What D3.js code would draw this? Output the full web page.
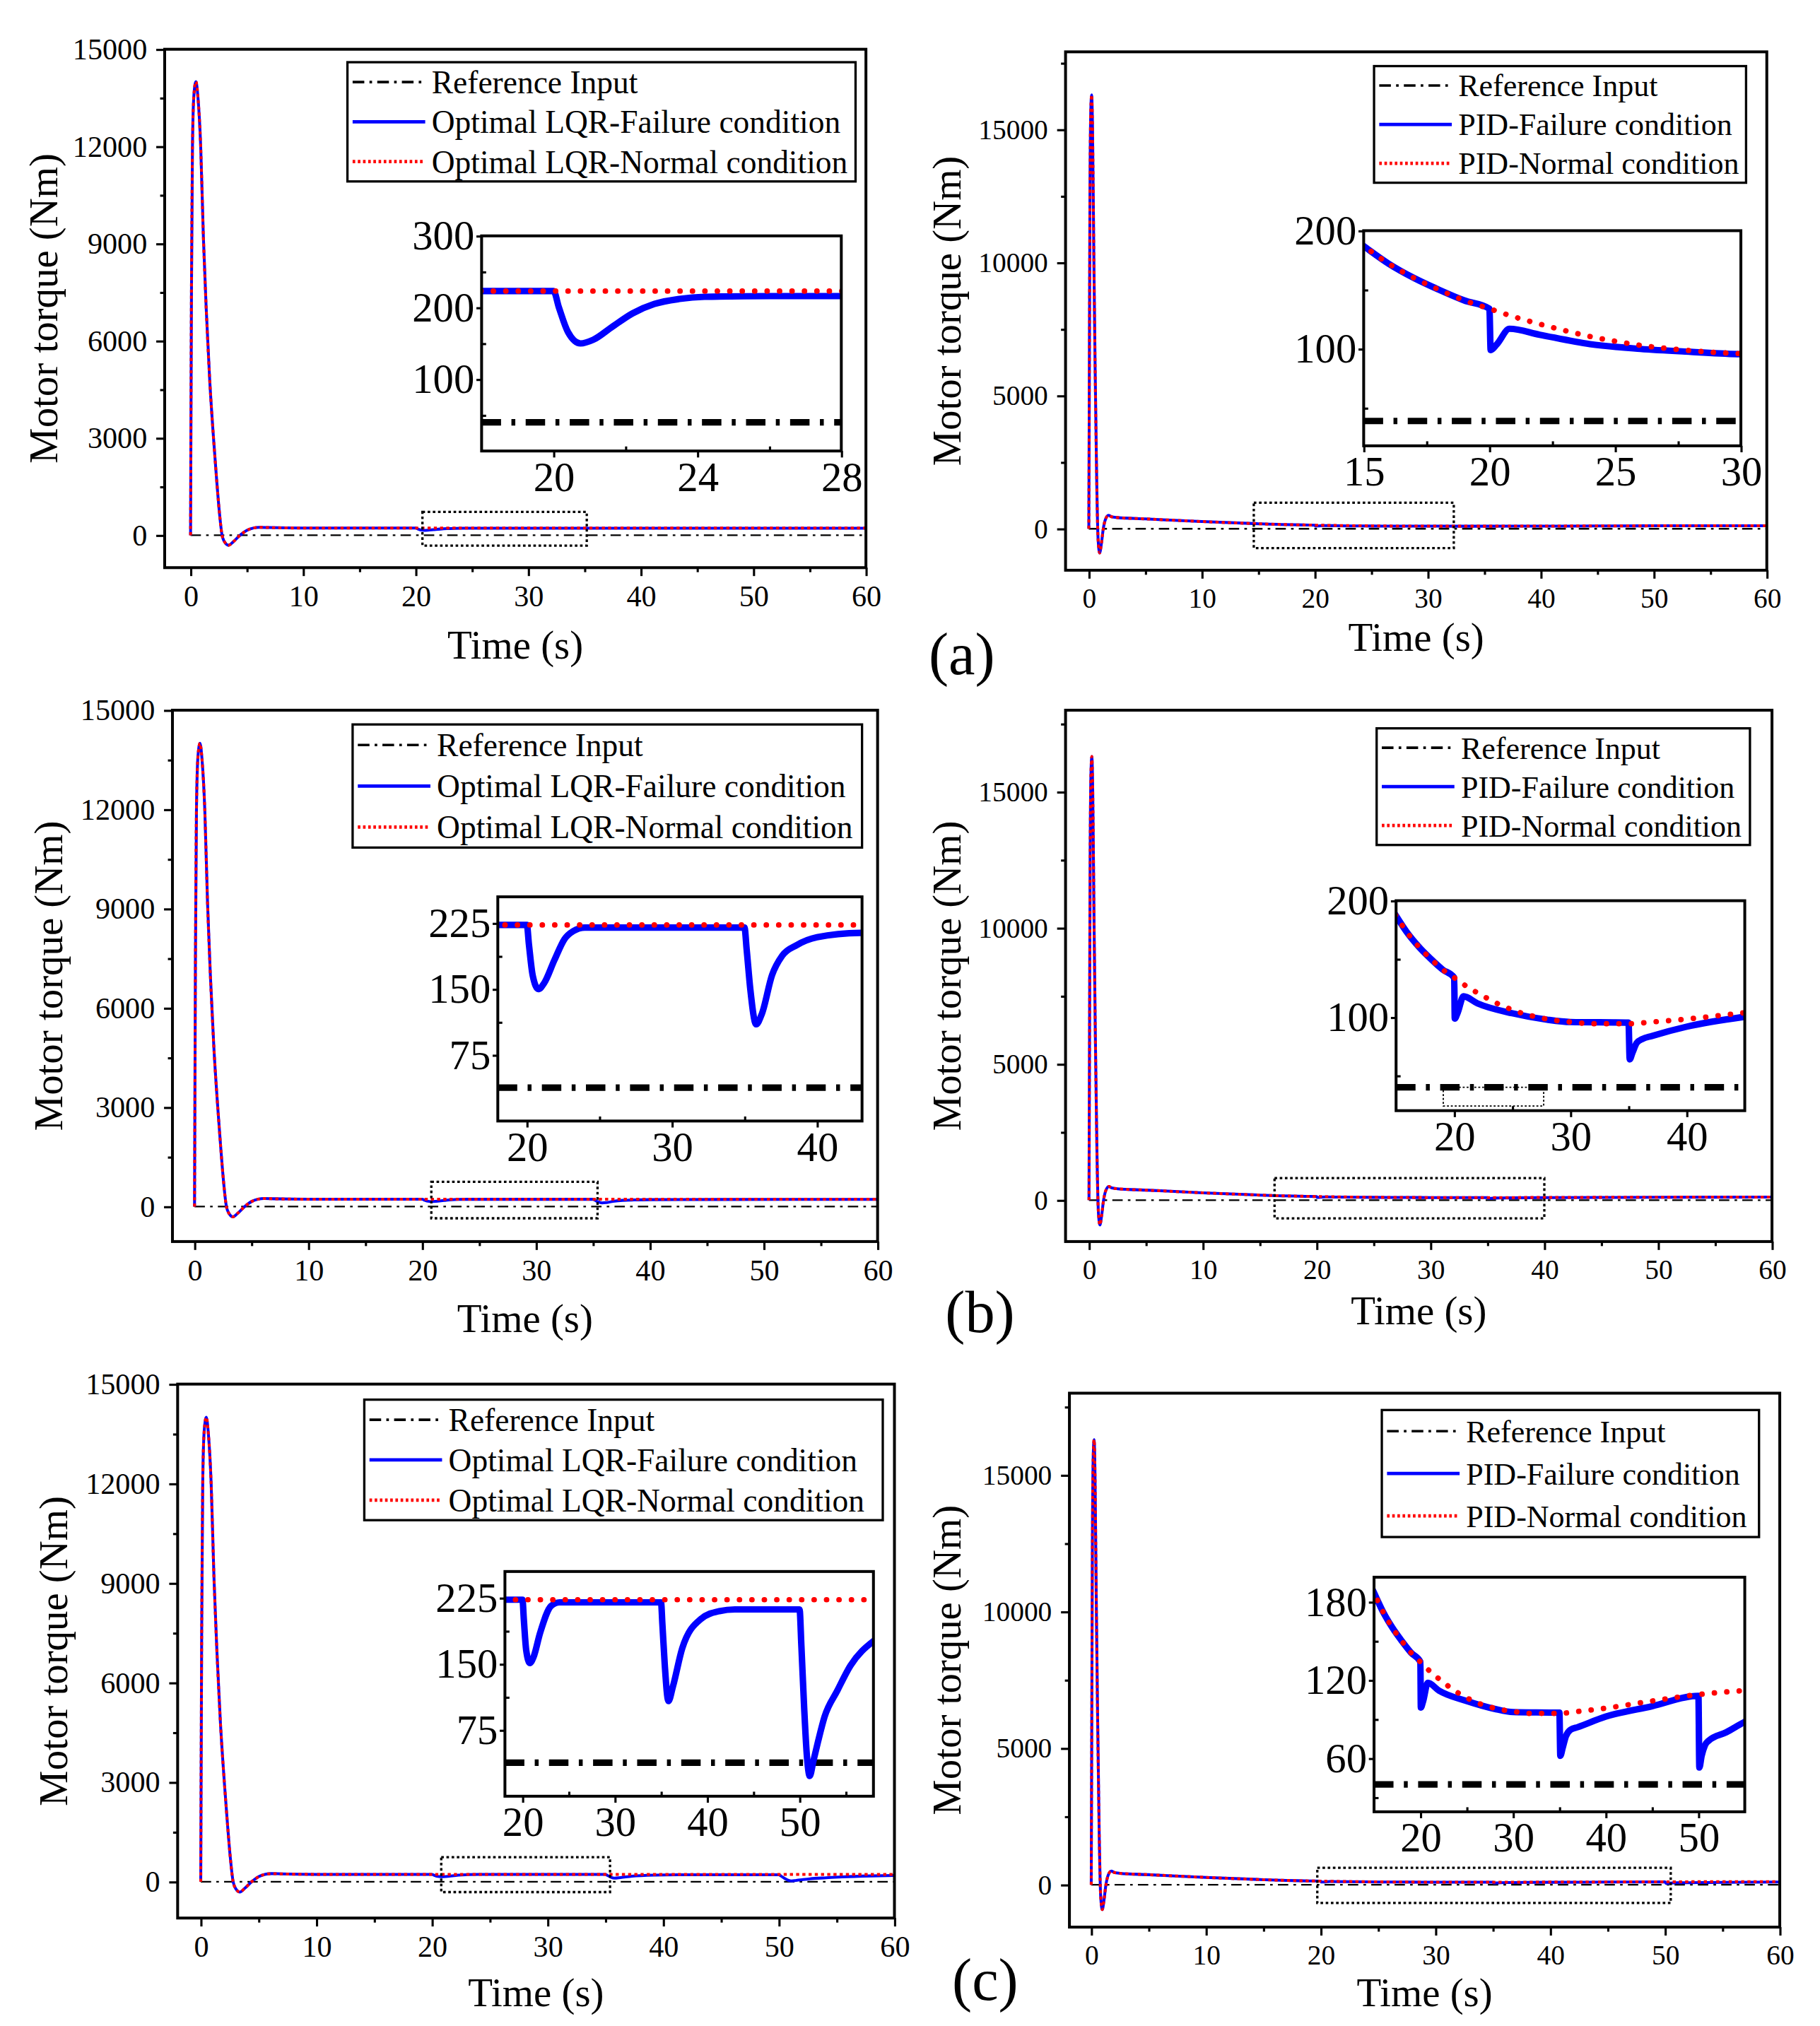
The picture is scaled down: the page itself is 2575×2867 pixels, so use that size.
<!DOCTYPE html>
<html><head><meta charset="utf-8">
<script src="https://cdn.jsdelivr.net/npm/d3@7/dist/d3.min.js"></script>
<style>body{margin:0;background:#fff}svg{display:block}</style>
</head><body>
<svg id="c" width="2575" height="2867" viewBox="0 0 1404 1563.3"></svg>
<script>
// ---------------- DATA ----------------
// LQR motor torque (Nm) vs time (s)
const lqrHead = [[0,0],[0.03,3000],[0.08,7500],[0.17,12000],[0.3,13600],[0.48,14000],[0.66,13500],[0.9,12000],[1.14,9200],[1.39,7000],[1.7,4800],[2.06,2900],[2.32,1700],[2.55,750],[2.8,0],[3.05,-220],[3.37,-310],[3.8,-200],[4.4,0],[5.0,150],[5.6,225],[6.1,245],[7,236],[8.5,226],[10,223],[15,223],[20,223]];
const lqrNormalTail = [[30,223],[40,223],[50,223],[60,223]];
const lqrTailA = [[20.15,200],[20.4,166],[20.75,150],[21.1,155],[21.6,172],[22.2,192],[22.8,205],[23.5,212],[24.2,215],[26,216],[60,216]];
const lqrTailB = [[20.15,200],[20.4,166],[20.8,150],[21.2,157],[21.9,183],[22.6,207],[23.2,216],[24,220],[35,220],[35.15,195],[35.4,150],[35.8,110],[36.2,122],[36.9,166],[37.6,188],[38.6,200],[40,209],[43,214],[60,216]];
const lqrTailC = [[20.15,200],[20.4,166],[20.8,151],[21.2,158],[21.9,185],[23.1,216],[24,220],[35,220],[35.15,195],[35.4,150],[35.8,108],[36.3,125],[37.3,168],[39.3,201],[41.3,210],[43,212],[50,212],[50.2,170],[50.5,100],[50.8,45],[51.1,23],[51.5,40],[52,62],[52.7,90],[54.1,120],[55.5,148],[58,176],[60,188]];
// PID motor torque (Nm) vs time (s)
const pidHead = [[0,0],[0.04,5000],[0.1,12500],[0.18,15800],[0.25,16300],[0.33,15000],[0.45,10000],[0.56,6000],[0.7,1750],[0.82,-400],[0.96,-910],[1.1,-600],[1.28,0],[1.5,380],[1.75,505],[2.0,450],[2.5,420],[5,370],[10,270],[15,187],[16,172],[17,160],[18,150],[19,141],[20,134]];
const pidNormalTail = [[21,127],[22,121],[23,115.5],[24,110.5],[25,106.5],[26,103],[27,100.5],[28,98.5],[29,97],[30,96],[32,94.5],[35,94.5],[37,96],[40,98.5],[45,104],[50,109],[55,112],[60,114]];
const pidTailA = [[20.05,99],[20.3,104],[20.8,117],[22,112],[24,104],[26,100],[28,97.5],[30,95.5],[35,94.5],[40,98],[45,103.5],[50,108.5],[60,113.5]];
const pidTailB = [[20.05,99],[20.3,104],[20.8,118],[22,112],[25,103.5],[28,98],[30,96],[35,95.5],[35.1,64],[35.35,70],[35.7,78],[36.2,81.5],[37,84],[40,92],[45,100.5],[50,106],[60,112]];
const pidTailC = [[20.05,99],[20.3,104],[20.8,118],[22,112],[25,104],[28,98],[30,95.5],[35,95],[35.1,62],[35.35,68],[35.7,77],[36.2,82],[37,84],[40,92],[45,100],[50,108],[50.1,53],[50.35,62],[50.7,70],[51.1,73.5],[53,80],[55,88],[60,100]];
// reference input
const refMain = [[0,0],[60,0]];
// tick values
const mainXTicks = [0,10,20,30,40,50,60];
const mainXMinor = [5,15,25,35,45,55];
const lqrYTicks = [0,3000,6000,9000,12000,15000];
const lqrYMinor = [-1500,1500,4500,7500,10500,13500];
const pidYTicks = [0,5000,10000,15000];
const pidYMinor = [2500,7500,12500,17500];
// legend labels
const lqrLegend = ["Reference Input","Optimal LQR-Failure condition","Optimal LQR-Normal condition"];
const pidLegend = ["Reference Input","PID-Failure condition","PID-Normal condition"];
const panelTags = ["(a)","(b)","(c)"];

// combined series tables
const lqrNormal = lqrHead.concat(lqrNormalTail);
const pidNormal = pidHead.concat(pidNormalTail);

const panels = [
 {id:"tl", box:[127,38,668,438], xDom:[-2.3,60], yDom:[-1000,15000], yT:lqrYTicks, yM:lqrYMinor, tf:23, lf:24.8,
  fail:lqrHead.concat(lqrTailA), norm:lqrNormal, leg:lqrLegend, lbox:[268,48,660,140],
  zoom:{x0:20.6,x1:35.2,y0:-320,y1:720}, ylx:34, xlOff:70,
  inset:{box:[371.5,182,649,348], xDom:[18,28], yDom:[0,300], xT:[20,24,28], xM:[22,26], yT:[100,200,300], yM:[50,150,250], ref:40}},
 {id:"tr", box:[822,40,1363,440], xDom:[-2.06,60], yDom:[-1560,17920], yT:pidYTicks, yM:pidYMinor, tf:21.5, lf:24,
  fail:pidHead.concat(pidTailA), norm:pidNormal, leg:pidLegend, lbox:[1060,51,1347,141],
  zoom:{x0:14.6,x1:32.3,y0:-730,y1:975}, ylx:731, xlOff:62,
  inset:{box:[1052,178,1343,344], xDom:[15,30], yDom:[18,200], xT:[15,20,25,30], xM:[17.5,22.5,27.5], yT:[100,200], yM:[50,150], ref:39}},
 {id:"ml", box:[133,548,677,958], xDom:[-1.94,60], yDom:[-1057,15000], yT:lqrYTicks, yM:lqrYMinor, tf:23, lf:24.8,
  fail:lqrHead.concat(lqrTailB), norm:lqrNormal, leg:lqrLegend, lbox:[272,559,665,654],
  zoom:{x0:20.8,x1:35.4,y0:-354,y1:748}, ylx:38, xlOff:70,
  inset:{box:[384,692,665,865], xDom:[18,43.1], yDom:[0,255], xT:[20,30,40], xM:[25,35], yT:[75,150,225], yM:[37.5,112.5,187.5], ref:38}},
 {id:"mr", box:[822,548,1367,958], xDom:[-2.06,60], yDom:[-1520,18000], yT:pidYTicks, yM:pidYMinor, tf:21.5, lf:24,
  fail:pidHead.concat(pidTailB), norm:pidNormal, leg:pidLegend, lbox:[1062,562,1350,652],
  zoom:{x0:16.3,x1:40,y0:-667,y1:810}, ylx:731, xlOff:64,
  inset:{box:[1077,695,1346,857], xDom:[15,45], yDom:[20,200], xT:[20,30,40], xM:[25,35], yT:[100,200], yM:[50,150], ref:40,
         sub:{x0:19.06,x1:27.7,y0:24,y1:40}}},
 {id:"bl", box:[137,1068,690,1480], xDom:[-2,60], yDom:[-1094,15000], yT:lqrYTicks, yM:lqrYMinor, tf:23, lf:24.8,
  fail:lqrHead.concat(lqrTailC), norm:lqrNormal, leg:lqrLegend, lbox:[281,1080,681,1173],
  zoom:{x0:20.8,x1:35.4,y0:-312,y1:742}, ylx:42, xlOff:68,
  inset:{box:[389.5,1212.6,673.8,1386], xDom:[18.1,58], yDom:[0,255], xT:[20,30,40,50], xM:[25,35,45,55], yT:[75,150,225], yM:[37.5,112.5,187.5], ref:38}},
 {id:"br", box:[825,1075,1373,1487], xDom:[-1.9,60], yDom:[-1550,18000], yT:pidYTicks, yM:pidYMinor, tf:21.5, lf:24,
  fail:pidHead.concat(pidTailC), norm:pidNormal, leg:pidLegend, lbox:[1066,1088,1357,1186],
  zoom:{x0:19.7,x1:50.5,y0:-667,y1:620}, ylx:731, xlOff:61,
  inset:{box:[1060,1217,1346,1398], xDom:[15,55], yDom:[19,199], xT:[20,30,40,50], xM:[25,35,45], yT:[60,120,180], yM:[30,90,150], ref:40}}
];
const tagPos = [[742,520],[756,1028],[760,1543]];

// ---------------- DRAW ----------------
const FONT = '"Liberation Serif","Times New Roman",Times,serif';
const svg = d3.select("#c");
const defs = svg.append("defs");

function clip(id, b){
  defs.append("clipPath").attr("id", id).append("rect")
    .attr("x", b[0]).attr("y", b[1]).attr("width", b[2]-b[0]).attr("height", b[3]-b[1]);
  return "url(#"+id+")";
}
function styleAxis(sel, fs){
  sel.select(".domain").remove();
  sel.selectAll("line").attr("stroke","#000").attr("stroke-width",1.7);
  sel.selectAll("text").attr("font-family",FONT).attr("font-size",fs).attr("fill","#000");
}

panels.forEach(p => {
  const g = svg.append("g");
  const [L,T,R,B] = p.box;
  const x = d3.scaleLinear().domain(p.xDom).range([L,R]);
  const y = d3.scaleLinear().domain(p.yDom).range([B,T]);
  const line = d3.line().x(d=>x(d[0])).y(d=>y(d[1])).curve(d3.curveMonotoneX);

  // axes
  const xa = g.append("g").attr("transform",`translate(0,${B})`)
    .call(d3.axisBottom(x).tickValues(mainXTicks).tickSize(6.5).tickPadding(7).tickFormat(d3.format("d")));
  styleAxis(xa, p.tf);
  const xm = g.append("g").attr("transform",`translate(0,${B})`)
    .call(d3.axisBottom(x).tickValues(mainXMinor).tickSize(3.5).tickFormat(""));
  styleAxis(xm, p.tf);
  const ya = g.append("g").attr("transform",`translate(${L},0)`)
    .call(d3.axisLeft(y).tickValues(p.yT).tickSize(6.5).tickPadding(7).tickFormat(d3.format("d")));
  styleAxis(ya, p.tf);
  const ym = g.append("g").attr("transform",`translate(${L},0)`)
    .call(d3.axisLeft(y).tickValues(p.yM.filter(v=>v>=p.yDom[0]&&v<=p.yDom[1])).tickSize(3.5).tickFormat(""));
  styleAxis(ym, p.tf);

  // data
  const dg = g.append("g").attr("clip-path", clip("c"+p.id, p.box));
  dg.append("path").datum(refMain).attr("d",line).attr("fill","none")
    .attr("stroke","#000").attr("stroke-width",1.3).attr("stroke-dasharray","8,4,2,4");
  dg.append("path").datum(p.fail).attr("d",line).attr("fill","none")
    .attr("stroke","#0000ff").attr("stroke-width",2.2);
  dg.append("path").datum(p.norm).attr("d",line).attr("fill","none")
    .attr("stroke","#ff0000").attr("stroke-width",2.2).attr("stroke-dasharray","2.4,2.4");

  // zoom dotted rectangle
  const z = p.zoom;
  g.append("rect").attr("x",x(z.x0)).attr("y",y(z.y1)).attr("width",x(z.x1)-x(z.x0)).attr("height",y(z.y0)-y(z.y1))
    .attr("fill","none").attr("stroke","#000").attr("stroke-width",1.8).attr("stroke-dasharray","2,2");

  // frame
  g.append("rect").attr("x",L).attr("y",T).attr("width",R-L).attr("height",B-T)
    .attr("fill","none").attr("stroke","#000").attr("stroke-width",2.2);

  // axis titles
  g.append("text").attr("x",(L+R)/2).attr("y",B+p.xlOff).attr("text-anchor","middle")
    .attr("font-family",FONT).attr("font-size",31).text("Time (s)");
  g.append("text").attr("transform",`translate(${p.ylx+10},${(T+B)/2}) rotate(-90)`).attr("text-anchor","middle")
    .attr("font-family",FONT).attr("font-size",31).text("Motor torque (Nm)");

  // legend
  const [lx0,ly0,lx1,ly1] = p.lbox;
  g.append("rect").attr("x",lx0).attr("y",ly0).attr("width",lx1-lx0).attr("height",ly1-ly0)
    .attr("fill","#fff").attr("stroke","#000").attr("stroke-width",1.8);
  const styles = [
    {c:"#000", w:2, da:"9,4,2,4"},
    {c:"#0000ff", w:2.6, da:null},
    {c:"#ff0000", w:2.6, da:"2,2"}
  ];
  p.leg.forEach((t,i)=>{
    const ry = ly0 + (ly1-ly0)*(i+0.5)/3;
    const s = styles[i];
    const ln = g.append("line").attr("x1",lx0+4).attr("x2",lx0+60).attr("y1",ry).attr("y2",ry)
      .attr("stroke",s.c).attr("stroke-width",s.w);
    if (s.da) ln.attr("stroke-dasharray",s.da);
    g.append("text").attr("x",lx0+65).attr("y",ry).attr("dy","0.35em")
      .attr("font-family",FONT).attr("font-size",p.lf).text(t);
  });

  // inset
  const q = p.inset;
  const [iL,iT,iR,iB] = q.box;
  const ix = d3.scaleLinear().domain(q.xDom).range([iL,iR]);
  const iy = d3.scaleLinear().domain(q.yDom).range([iB,iT]);
  const iline = d3.line().x(d=>ix(d[0])).y(d=>iy(d[1])).curve(d3.curveMonotoneX);
  const ig = g.append("g");
  ig.append("rect").attr("x",iL).attr("y",iT).attr("width",iR-iL).attr("height",iB-iT).attr("fill","#fff");
  const ixa = ig.append("g").attr("transform",`translate(0,${iB})`)
    .call(d3.axisBottom(ix).tickValues(q.xT).tickSize(5).tickPadding(3).tickFormat(d3.format("d")));
  styleAxis(ixa, 32);
  const ixm = ig.append("g").attr("transform",`translate(0,${iB})`)
    .call(d3.axisBottom(ix).tickValues(q.xM).tickSize(-3.5).tickFormat(""));
  styleAxis(ixm, 32);
  const iya = ig.append("g").attr("transform",`translate(${iL},0)`)
    .call(d3.axisLeft(iy).tickValues(q.yT).tickSize(4).tickPadding(1.5).tickFormat(d3.format("d")));
  styleAxis(iya, 32);
  const iym = ig.append("g").attr("transform",`translate(${iL},0)`)
    .call(d3.axisLeft(iy).tickValues(q.yM).tickSize(-3.5).tickFormat(""));
  styleAxis(iym, 32);

  const idg = ig.append("g").attr("clip-path", clip("ci"+p.id, q.box));
  const refIn = [[q.xDom[0],q.ref],[q.xDom[1],q.ref]];
  idg.append("path").datum(refIn).attr("d",iline).attr("fill","none")
    .attr("stroke","#000").attr("stroke-width",5).attr("stroke-dasharray","15,8,3,8");
  if (q.sub){
    const s = q.sub;
    idg.append("rect").attr("x",ix(s.x0)).attr("y",iy(s.y1)).attr("width",ix(s.x1)-ix(s.x0)).attr("height",iy(s.y0)-iy(s.y1))
      .attr("fill","none").attr("stroke","#000").attr("stroke-width",1).attr("stroke-dasharray","1.5,1.5");
  }
  idg.append("path").datum(p.fail).attr("d",iline).attr("fill","none")
    .attr("stroke","#0000ff").attr("stroke-width",5).attr("stroke-linejoin","round");
  idg.append("path").datum(p.norm).attr("d",iline).attr("fill","none")
    .attr("stroke","#ff0000").attr("stroke-width",4.2).attr("stroke-linecap","round").attr("stroke-dasharray","0.1,9.5");
  ig.append("rect").attr("x",iL).attr("y",iT).attr("width",iR-iL).attr("height",iB-iT)
    .attr("fill","none").attr("stroke","#000").attr("stroke-width",2.2);
});

panelTags.forEach((t,i)=>{
  svg.append("text").attr("x",tagPos[i][0]).attr("y",tagPos[i][1]).attr("text-anchor","middle")
    .attr("font-family",FONT).attr("font-size",46).text(t);
});
</script>
</body></html>
